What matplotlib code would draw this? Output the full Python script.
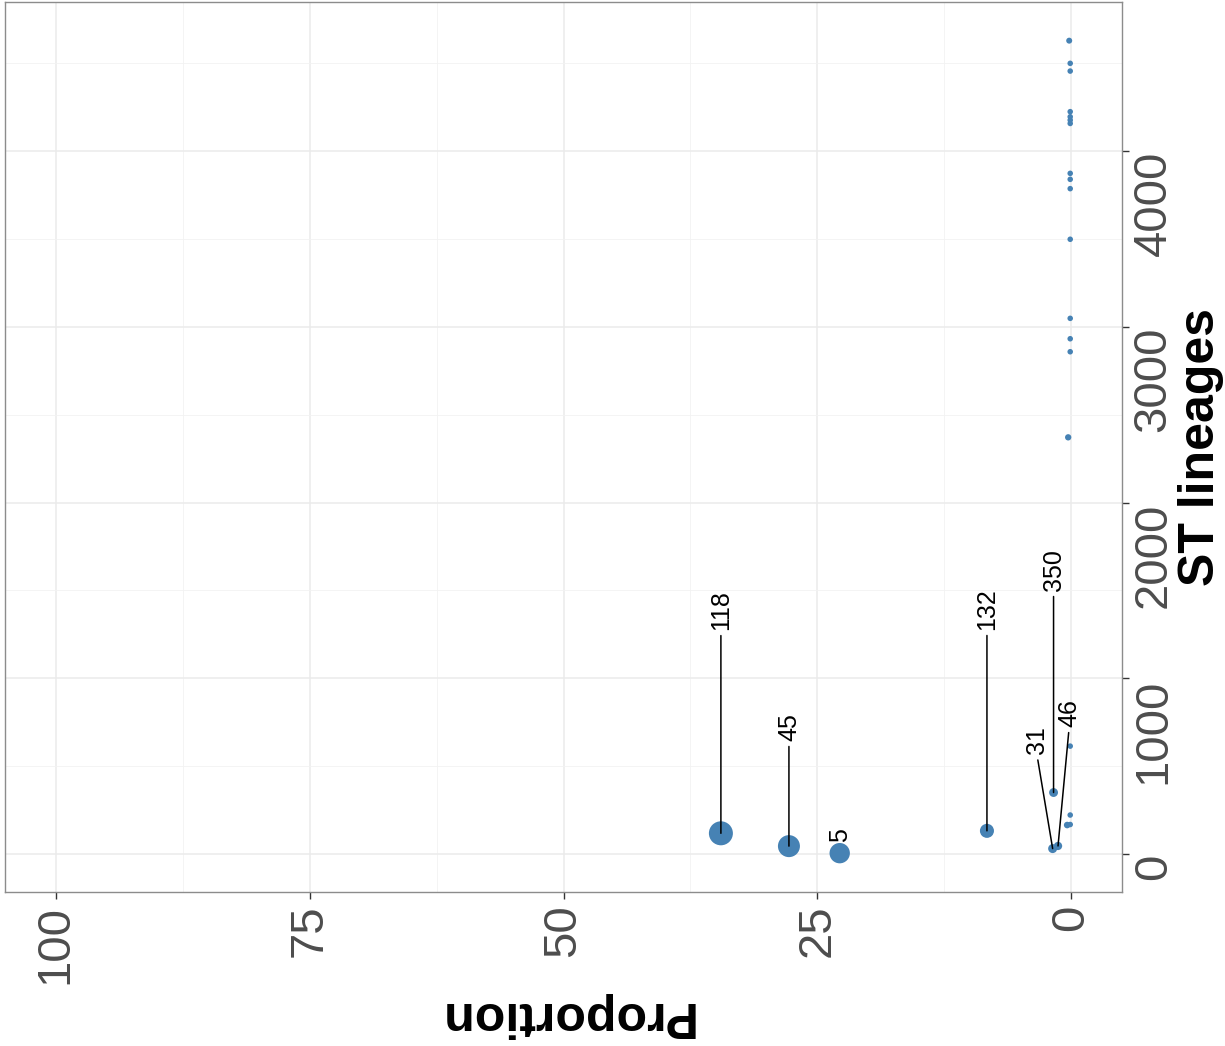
import numpy as np
import matplotlib
matplotlib.use("Agg")
import matplotlib.pyplot as plt

plt.rcParams['font.family'] = ['Liberation Sans', 'DejaVu Sans']

# ST lineages and their proportion (%)
labelled_st = [118, 45, 5, 132, 350, 31, 46]
labelled_prop = [34.5, 27.8, 22.8, 8.3, 1.74, 1.83, 1.3]

other_st = [614, 222, 165, 168, 2371, 2858, 2932, 3048, 3498, 3786, 3839,
            3873, 4157, 4176, 4195, 4224, 4455, 4499, 4628]
other_prop = [0.1, 0.1, 0.4, 0.1, 0.3, 0.1, 0.1, 0.1, 0.1, 0.1, 0.1,
              0.1, 0.1, 0.1, 0.1, 0.1, 0.1, 0.1, 0.2]

prop_ticks = [0, 25, 50, 75, 100]
st_ticks = [0, 1000, 2000, 3000, 4000]

# where the repelled labels ended up (proportion, ST)
label_pos = {118: (34.5, 1388), 45: (27.8, 723), 5: (22.8, 108),
             132: (8.3, 1394), 350: (1.74, 1616), 31: (3.38, 646),
             46: (0.2, 802)}
no_segment = [5]

W, H, DPI = 1225, 1046, 100
fig = plt.figure(figsize=(W / DPI, H / DPI), dpi=DPI)
ax = fig.add_axes([5 / W, 1 - 892 / H, 1117 / W, 890 / H])

all_st = np.array(labelled_st + other_st)
all_prop = np.array(labelled_prop + other_prop)
pmax = all_prop.max()
diam_px = 4.5 + 19.5 * np.sqrt(all_prop / pmax)
sizes = (diam_px * 72 / DPI) ** 2

ax.scatter(all_prop, all_st, s=sizes, color='#4682B4', edgecolors='none', zorder=3)

for st, p in zip(labelled_st, labelled_prop):
    tx, ty = label_pos[st]
    arrow = None
    if st not in no_segment:
        arrow = dict(arrowstyle='-', color='black', lw=1.1, shrinkA=2,
                     shrinkB=0, relpos=(0.5, 0))
    ax.annotate(str(st), xy=(p, st), xytext=(tx, ty), textcoords='data',
                rotation=90, ha='center', va='center', fontsize=18,
                color='black', arrowprops=arrow, zorder=4)

ax.set_xlim(105, -5)
ax.set_ylim(-216, 4848)

ax.set_xticks(prop_ticks)
ax.set_xticks([12.5, 37.5, 62.5, 87.5], minor=True)
ax.set_yticks(st_ticks)
ax.set_yticks([500, 1500, 2500, 3500, 4500], minor=True)
ax.yaxis.tick_right()

ax.grid(True, which='major', color='#EBEBEB', lw=1.1)
ax.grid(True, which='minor', color='#F2F2F2', lw=0.6)
ax.set_axisbelow(True)

ax.tick_params(which='minor', length=0)
ax.tick_params(axis='x', which='major', labelrotation=90, labelsize=34,
               labelcolor='#4D4D4D', color='#333333', length=5, pad=4, width=1)
ax.tick_params(axis='y', which='major', labelrotation=90, labelsize=34,
               labelcolor='#4D4D4D', color='#333333', length=5, pad=2, width=1)
plt.setp(ax.get_yticklabels(), va='top')

for sp in ax.spines.values():
    sp.set_color('#8C8C8C')
    sp.set_linewidth(1.0)

ax.set_xlabel('Proportion', rotation=180, fontsize=36, fontweight='bold',
              ha='center', va='center')
ax.xaxis.set_label_coords((565 - 5) / 1117, (892 - 1015) / 890)
ax.yaxis.set_label_position('right')
ax.set_ylabel('ST lineages', rotation=90, fontsize=36, fontweight='bold',
              ha='center', va='center')
ax.yaxis.set_label_coords((1201 - 5) / 1117, 0.5)

fig.savefig('out.png', dpi=DPI)
